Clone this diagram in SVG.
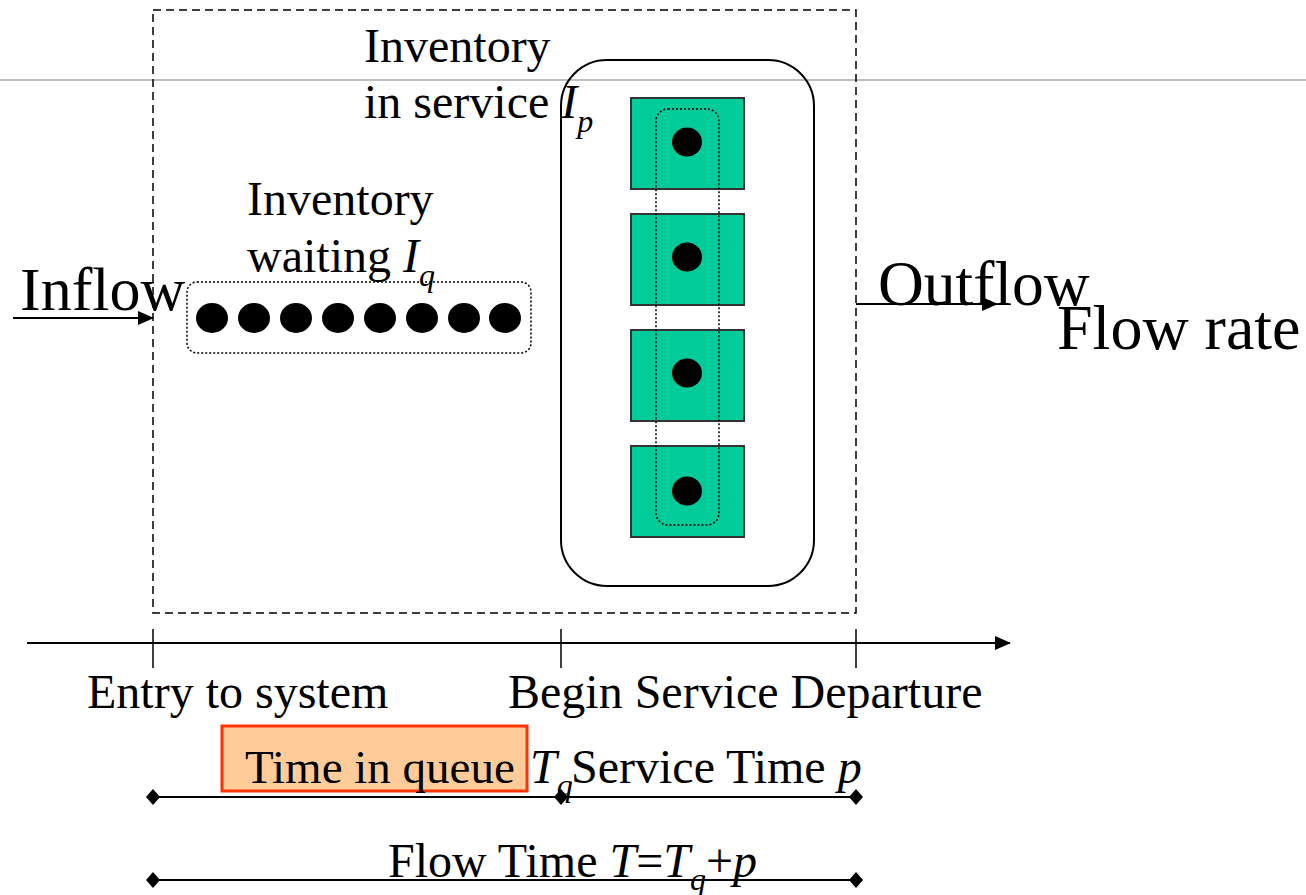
<svg xmlns="http://www.w3.org/2000/svg" width="1306" height="895" viewBox="0 0 1306 895">
<style>
.txt{font-family:"Liberation Serif","Times New Roman",serif;fill:#000}
.lbl{font-size:48px}
.it{font-style:italic}
.sub{font-size:32px;font-style:italic}
.ln{stroke:#000;stroke-width:2;fill:none}
.sq{fill:#00CC99;stroke:#333;stroke-width:2}
.dot{fill:#000}
.dotted{fill:none;stroke:#000;stroke-width:1.5;stroke-dasharray:2,2}
</style>
<defs>
<marker id="arr" viewBox="0 0 16 14" refX="15" refY="7" markerWidth="16" markerHeight="14" markerUnits="userSpaceOnUse" orient="auto">
<path d="M0,0 L16,7 L0,14 Z" fill="#000"/>
</marker>
<marker id="dia" viewBox="0 0 14 16" refX="7" refY="8" markerWidth="14" markerHeight="16" markerUnits="userSpaceOnUse" orient="0">
<path d="M7,0 L14,8 L7,16 L0,8 Z" fill="#000"/>
</marker>
</defs>

<line x1="0" y1="80" x2="1306" y2="80" stroke="#BFBFBF" stroke-width="2"/>

<g id="system">
<rect x="153" y="10" width="703" height="603" fill="none" stroke="#000" stroke-width="1.5" stroke-dasharray="8,5"/>
</g>

<g id="service">
<rect x="561" y="60" width="253" height="526" rx="46" ry="46" class="ln"/>
<rect x="631" y="98" width="113" height="91" class="sq"/>
<rect x="631" y="214" width="113" height="91" class="sq"/>
<rect x="631" y="330" width="113" height="91" class="sq"/>
<rect x="631" y="446" width="113" height="91" class="sq"/>
<rect x="656" y="109" width="63" height="416" rx="12" ry="12" class="dotted"/>
<ellipse cx="687" cy="142" rx="15" ry="14.5" class="dot"/>
<ellipse cx="687" cy="257" rx="15" ry="14.5" class="dot"/>
<ellipse cx="687" cy="373" rx="15" ry="14.5" class="dot"/>
<ellipse cx="687" cy="491" rx="15" ry="14.5" class="dot"/>
</g>

<g id="queue">
<rect x="187" y="282" width="344" height="71" rx="10" ry="10" class="dotted"/>
<ellipse cx="212" cy="318" rx="16" ry="15" class="dot"/>
<ellipse cx="254" cy="318" rx="16" ry="15" class="dot"/>
<ellipse cx="296" cy="318" rx="16" ry="15" class="dot"/>
<ellipse cx="338" cy="318" rx="16" ry="15" class="dot"/>
<ellipse cx="380" cy="318" rx="16" ry="15" class="dot"/>
<ellipse cx="422" cy="318" rx="16" ry="15" class="dot"/>
<ellipse cx="464" cy="318" rx="16" ry="15" class="dot"/>
<ellipse cx="505" cy="318" rx="16" ry="15" class="dot"/>
</g>

<g id="labels">
<text class="txt lbl" x="364" y="62">Inventory</text>
<text class="txt lbl" x="364" y="118">in service <tspan class="it">I</tspan><tspan class="sub" dy="14">p</tspan></text>
<text class="txt lbl" x="247" y="215">Inventory</text>
<text class="txt lbl" x="247" y="272">waiting <tspan class="it">I</tspan><tspan class="sub" dy="14">q</tspan></text>
<text class="txt" font-size="62" x="20" y="310">Inflow</text>
<text class="txt" font-size="63.5" x="878" y="305">Outflow</text>
<text class="txt" font-size="64" x="1057" y="349">Flow rate</text>
</g>

<g id="connectors">
<line x1="13" y1="318" x2="153" y2="318" class="ln" marker-end="url(#arr)"/>
<line x1="856" y1="304" x2="997" y2="304" class="ln" marker-end="url(#arr)"/>
<line x1="27" y1="643" x2="1010" y2="643" class="ln" marker-end="url(#arr)"/>
<line x1="153" y1="629" x2="153" y2="668" stroke="#000" stroke-width="1.5"/>
<line x1="561" y1="629" x2="561" y2="668" stroke="#000" stroke-width="1.5"/>
<line x1="856" y1="629" x2="856" y2="668" stroke="#000" stroke-width="1.5"/>
<polyline points="153,797 561,797 856,797" class="ln" marker-start="url(#dia)" marker-mid="url(#dia)" marker-end="url(#dia)"/>
<line x1="153" y1="880" x2="856" y2="880" class="ln" marker-start="url(#dia)" marker-end="url(#dia)"/>
</g>

<g id="timeline-labels">
<text class="txt lbl" x="87" y="708">Entry to system</text>
<text class="txt lbl" x="508" y="708">Begin Service Departure</text>
</g>

<g id="queue-time">
<rect x="222" y="726" width="305" height="65" fill="#FFCC99" stroke="#FF3300" stroke-width="3"/>
<text class="txt" font-size="47" x="245" y="783">Time in queue</text>
<text class="txt lbl" x="530" y="783"><tspan class="it">T</tspan><tspan class="sub" dy="13">q</tspan></text>
<text class="txt lbl" x="571" y="783">Service Time <tspan class="it">p</tspan></text>
</g>

<g id="flow-time">
<text class="txt lbl" x="388" y="877">Flow Time <tspan class="it">T</tspan>=<tspan class="it">T</tspan><tspan class="sub" dy="13">q</tspan><tspan dy="-13">+</tspan><tspan class="it">p</tspan></text>
</g>
</svg>
